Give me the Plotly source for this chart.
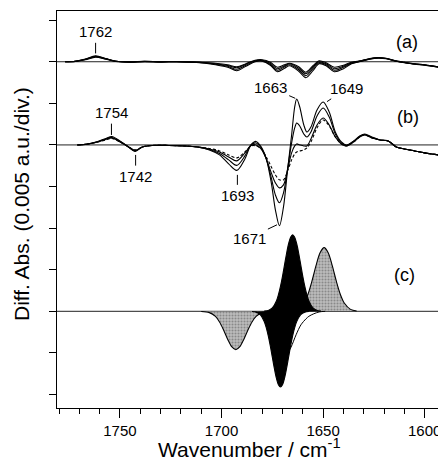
import plotly.graph_objects as go

# ---------------- data (mAbs = 1e-3 a.u.; 5 mAbs = 0.005 a.u. = 1 division) ----------------
offsets = {"a": 40.0, "b": 30.0, "c": 10.0}

wn_a = [1777, 1772, 1767, 1762, 1757, 1752, 1745, 1738, 1730, 1722,
        1714, 1708, 1703, 1697, 1692.5, 1688, 1683.5, 1680, 1676, 1672.5,
        1669, 1666.5, 1662, 1658.5, 1655, 1652, 1648.5, 1644.5, 1640, 1636,
        1631, 1627, 1623, 1619, 1614, 1610, 1605, 1600, 1595, 1590]
a1 = [0, 0.06, 0.30, 0.66, 0.36, 0.06, -0.04, 0.04, -0.02, 0,
      -0.06, -0.18, -0.36, -0.66, -1.08, -0.54, 0, 0.06, -0.42, -1.20,
      -0.78, -0.48, -1.14, -1.92, -1.08, -0.24, -0.48, -1.20, -0.84, -0.24,
      0.06, 0.30, 0.42, 0.36, 0.06, -0.12, -0.30, -0.42, -0.60, -0.78]
a2 = [0, 0.06, 0.34, 0.70, 0.38, 0.06, -0.02, 0.04, -0.01, 0,
      -0.05, -0.16, -0.30, -0.54, -0.90, -0.42, 0.06, 0.12, -0.30, -1.02,
      -0.60, -0.36, -0.96, -1.68, -0.84, -0.12, -0.36, -1.02, -0.66, -0.18,
      0.10, 0.34, 0.46, 0.38, 0.06, -0.10, -0.28, -0.40, -0.58, -0.76]
a3 = [0, 0.05, 0.28, 0.60, 0.34, 0.05, -0.04, 0.02, -0.02, 0,
      -0.04, -0.12, -0.24, -0.46, -0.72, -0.30, 0.12, 0.18, -0.18, -0.84,
      -0.48, -0.24, -0.78, -1.44, -0.66, 0, -0.24, -0.84, -0.54, -0.12,
      0.12, 0.36, 0.48, 0.40, 0.08, -0.08, -0.26, -0.38, -0.56, -0.74]
a4 = [0, 0.04, 0.24, 0.55, 0.30, 0.04, -0.02, 0.02, -0.01, 0,
      -0.04, -0.10, -0.18, -0.36, -0.60, -0.24, 0.18, 0.24, -0.06, -0.66,
      -0.36, -0.18, -0.60, -1.26, -0.48, 0.12, -0.12, -0.66, -0.42, -0.06,
      0.14, 0.38, 0.50, 0.42, 0.10, -0.07, -0.25, -0.37, -0.55, -0.73]

wn_b = [1771, 1766, 1761, 1757, 1754, 1750, 1746.5, 1742.5, 1739, 1734,
        1726, 1718, 1712, 1706, 1701, 1696.5, 1692.5, 1688.5, 1685.5, 1683,
        1680.5, 1678, 1675.5, 1673.5, 1671.5, 1669.5, 1667.5, 1665.5, 1664, 1663,
        1661.5, 1659.5, 1658, 1656, 1653, 1650, 1647, 1644, 1641, 1638.5,
        1635, 1632, 1629.5, 1626, 1622, 1618, 1614, 1610, 1605, 1600,
        1595, 1590]
b1 = [0, 0.12, 0.42, 0.78, 1.02, 0.48, -0.12, -0.78, -0.24, -0.06,
      -0.06, -0.12, -0.24, -0.60, -1.20, -2.28, -3.06, -1.68, 0, 0.42,
      -0.24, -1.68, -4.56, -7.80, -9.72, -7.44, -3.00, 1.20, 4.56, 5.52,
      4.56, 2.40, 1.56, 2.16, 4.20, 5.16, 3.96, 1.56, 0.36, 0,
      0.48, 1.08, 1.32, 0.96, 0.60, 0.48, -0.24, -0.48, -0.72, -0.96,
      -1.14, -1.32]
b2 = [0, 0.12, 0.38, 0.72, 0.90, 0.42, -0.12, -0.72, -0.24, -0.06,
      -0.06, -0.12, -0.24, -0.54, -1.02, -1.80, -2.46, -1.32, 0, 0.24,
      -0.36, -1.68, -3.96, -6.00, -6.96, -5.76, -2.88, 0.24, 2.04, 2.64,
      2.28, 1.32, 0.96, 1.56, 3.48, 4.44, 3.36, 1.32, 0.24, -0.06,
      0.42, 1.02, 1.26, 0.90, 0.60, 0.48, -0.24, -0.48, -0.72, -0.96,
      -1.14, -1.32]
b3 = [0, 0.10, 0.36, 0.66, 0.84, 0.36, -0.12, -0.66, -0.24, -0.06,
      -0.06, -0.12, -0.24, -0.48, -0.84, -1.44, -1.92, -0.96, -0.06, 0,
      -0.48, -1.68, -3.36, -4.56, -5.16, -4.80, -3.00, -0.96, -0.12, 0.12,
      0, -0.12, -0.12, 0.72, 2.40, 3.24, 2.40, 0.96, 0.12, -0.12,
      0.36, 0.96, 1.20, 0.84, 0.60, 0.48, -0.24, -0.48, -0.72, -0.96,
      -1.14, -1.32]
b4 = [0, 0.10, 0.34, 0.60, 0.78, 0.36, -0.12, -0.60, -0.24, -0.06,
      -0.06, -0.12, -0.24, -0.42, -0.72, -1.20, -1.56, -0.84, -0.12, -0.12,
      -0.48, -1.44, -2.64, -3.60, -4.20, -4.20, -3.12, -1.80, -1.08, -0.84,
      -0.72, -0.60, -0.36, 0.36, 2.04, 3.00, 2.28, 0.96, 0.12, -0.12,
      0.36, 0.96, 1.20, 0.84, 0.60, 0.48, -0.24, -0.48, -0.72, -0.96,
      -1.14, -1.32]

# (c) band components
wn_c1693 = [1710, 1706, 1703, 1701, 1699, 1697, 1695, 1693, 1691, 1689, 1687, 1685, 1683, 1680, 1676]
c1693 = [-0.02, -0.16, -0.62, -1.28, -2.25, -3.35, -4.26, -4.62, -4.26, -3.35, -2.25, -1.28, -0.62, -0.16, -0.02]
wn_c1671 = [1685, 1683, 1681, 1679, 1678, 1677, 1676, 1675, 1674, 1673, 1672, 1671,
            1670, 1669, 1668, 1667, 1666, 1665, 1664, 1663, 1661, 1659, 1657]
c1671 = [-0.02, -0.10, -0.40, -1.23, -1.97, -2.96, -4.17, -5.52, -6.87, -8.04, -8.82, -9.10,
         -8.82, -8.04, -6.87, -5.52, -4.17, -2.96, -1.97, -1.23, -0.40, -0.10, -0.02]
wn_c1663 = [1679, 1677, 1675, 1673, 1672, 1671, 1670, 1669, 1668, 1667, 1666, 1665,
            1664, 1663, 1662, 1661, 1660, 1659, 1658, 1657, 1655, 1653, 1651]
c1663 = [0.02, 0.10, 0.40, 1.24, 1.99, 2.99, 4.21, 5.58, 6.95, 8.12, 8.91, 9.20,
         8.91, 8.12, 6.95, 5.58, 4.21, 2.99, 1.99, 1.24, 0.40, 0.10, 0.02]
wn_c1649 = [1665.5, 1662.5, 1659.5, 1657.5, 1655.5, 1653.5, 1651.5, 1649.5, 1647.5, 1645.5, 1643.5, 1641.5, 1639.5, 1636.5, 1633.5]
c1649 = [0.04, 0.23, 0.96, 2.02, 3.62, 5.49, 7.05, 7.66, 7.05, 5.49, 3.62, 2.02, 0.96, 0.23, 0.04]
wn_env = [1669, 1667.5, 1665.8, 1663.3, 1660.9, 1658.4, 1657, 1654.6, 1652, 1649]
env = [-5.76, -5.04, -4.32, -2.82, -1.62, -0.90, -0.60, -0.30, -0.08, 0]

# peak labels: (text, wavenumber, value on the plot in mAbs incl. offset, ax, ay)
peak_labels = [("1762", 1762.0, 41.0, 0, -21.6),
               ("1754", 1754.2, 31.2, 0, -22.3),
               ("1742", 1742.3, 28.8, 0, 21.7),
               ("1693", 1692.2, 26.4, 0, 21.0),
               ("1663", 1663.7, 35.6, -25, -11),
               ("1649", 1648.1, 35.2, 20, -13.4),
               ("1671", 1672.7, 20.4, -28, 13.3)]
panel_labels = [("(a)", 1608.6, 42.4), ("(b)", 1608.3, 33.4), ("(c)", 1610.0, 14.4)]

FONT = "Liberation Sans, Arial, Helvetica, sans-serif"

fig = go.Figure()

def shifted(vals, off):
    return [off + v for v in vals]

# baselines
for k in ["a", "b", "c"]:
    fig.add_hline(y=offsets[k], line=dict(color="#222222", width=1), layer="below")

line_kw = dict(color="black", width=1.1, shape="spline", smoothing=0.9)

for vals in [a1, a2, a3, a4]:
    fig.add_trace(go.Scatter(x=wn_a, y=shifted(vals, offsets["a"]), mode="lines", line=line_kw))
for vals in [b1, b2, b3]:
    fig.add_trace(go.Scatter(x=wn_b, y=shifted(vals, offsets["b"]), mode="lines", line=line_kw))
fig.add_trace(go.Scatter(x=wn_b, y=shifted(b4, offsets["b"]), mode="lines",
                         line=dict(color="black", width=1.1, dash="3px,2px", shape="spline", smoothing=0.9)))

stipple = dict(shape=".", bgcolor="#bdbdbd", fgcolor="#555555", size=3, solidity=0.4)

# (c) gray components
fig.add_trace(go.Scatter(x=wn_c1693, y=shifted(c1693, offsets["c"]), mode="lines", fill="toself",
                         fillcolor="#b5b5b5", fillpattern=stipple, line=line_kw))
fig.add_trace(go.Scatter(x=wn_c1649, y=shifted(c1649, offsets["c"]), mode="lines", fill="toself",
                         fillcolor="#b5b5b5", fillpattern=stipple, line=line_kw))
# thin envelope line
fig.add_trace(go.Scatter(x=wn_env, y=shifted(env, offsets["c"]), mode="lines",
                         line=dict(color="black", width=1, shape="spline", smoothing=0.9)))
# black pair
fig.add_trace(go.Scatter(x=wn_c1671, y=shifted(c1671, offsets["c"]), mode="lines", line=line_kw))
fig.add_trace(go.Scatter(x=wn_c1663, y=shifted(c1663, offsets["c"]), mode="lines", fill="tonexty",
                         fillcolor="black", line=line_kw))

for txt, x, y, ax, ay in peak_labels:
    fig.add_annotation(x=x, y=y, text=txt, showarrow=True, arrowhead=0, arrowwidth=1,
                       arrowcolor="black", ax=ax, ay=ay, standoff=0, startstandoff=1,
                       font=dict(family=FONT, size=15, color="black"))
for txt, x, y in panel_labels:
    fig.add_annotation(x=x, y=y, text=txt, showarrow=False,
                       font=dict(family=FONT, size=18, color="black"))

fig.add_annotation(xref="paper", yref="paper", x=0.497, y=-0.101, text="Wavenumber / cm<sup>-1</sup>",
                   showarrow=False, xanchor="center", yanchor="middle",
                   font=dict(family=FONT, size=21, color="black"))
fig.add_annotation(xref="paper", yref="paper", x=-0.09, y=0.514, text="Diff. Abs. (0.005 a.u./div.)",
                   showarrow=False, textangle=-90, xanchor="center", yanchor="middle",
                   font=dict(family=FONT, size=21, color="black"))

# the page body has an 8 px margin, so the figure is drawn 8 px smaller and shifted
fig.update_layout(
    width=438, height=449,
    margin=dict(l=49, r=1, t=3, b=49),
    paper_bgcolor="white", plot_bgcolor="white",
    showlegend=False,
    font=dict(family=FONT, size=15, color="black"),
    xaxis=dict(range=[1781, 1590], tick0=1600, dtick=50, ticks="outside", ticklen=9,
               tickcolor="black", tickwidth=1, showline=True, linecolor="black", linewidth=1,
               mirror=True, showgrid=False, zeroline=False,
               tickfont=dict(family=FONT, size=15, color="black"),
               minor=dict(dtick=10, tick0=1600, ticks="outside", ticklen=5, tickcolor="black", showgrid=False)),
    yaxis=dict(range=[-1.625, 46.1], tick0=0, dtick=5, ticks="outside", ticklen=7,
               tickcolor="black", tickwidth=1, showline=True, linecolor="black", linewidth=1,
               showticklabels=False, showgrid=False, zeroline=False),
)

fig.write_html("out.html")
